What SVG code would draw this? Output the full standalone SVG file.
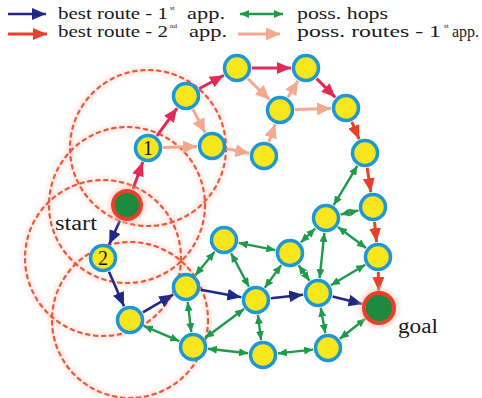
<svg xmlns="http://www.w3.org/2000/svg" width="482" height="398" viewBox="0 0 482 398">
  <defs>
    <style>
      .txt { font-family: "Liberation Serif", "Times New Roman", serif; fill: #1a1a1a; }
      .range { fill: none; stroke: #e85a3c; stroke-width: 2.2; stroke-dasharray: 3.5 4.5; stroke-linecap: round; }
      .haze { fill: none; stroke: #f7c4b8; stroke-width: 6; opacity: 0.4; }
      .node circle.body { fill: #f8e61c; stroke: #1c98d6; stroke-width: 3.5; }
      .end circle.halo { fill: #f9c3b6; opacity: 0.6; }
      .end circle.body { fill: #1b8a3e; stroke: #e8402a; stroke-width: 4; }
      .num { font-family: "Liberation Serif", "Times New Roman", serif; font-size: 20px; fill: #111; text-anchor: middle; }
      .red1 { stroke: #e12a55; stroke-width: 3; fill: none; marker-end: url(#hRed1); }
      .red2 { stroke: #e8402b; stroke-width: 3; fill: none; marker-end: url(#hRed2); }
      .blue { stroke: #1f2a87; stroke-width: 2.6; fill: none; marker-end: url(#hBlue); }
      .salmon { stroke: #f4a890; stroke-width: 3; fill: none; marker-end: url(#hSalmon); }
      .hop { stroke: #1d9a4b; stroke-width: 2.4; fill: none; marker-start: url(#hGreen); marker-end: url(#hGreen); }
    </style>
    <marker id="hRed1" markerUnits="userSpaceOnUse" viewBox="0 0 14 12" refX="14" refY="6" markerWidth="14" markerHeight="12" orient="auto-start-reverse">
      <path d="M0,0 L14,6 L0,12 Z" fill="#e12a55"/>
    </marker>
    <marker id="hRed2" markerUnits="userSpaceOnUse" viewBox="0 0 14 12" refX="14" refY="6" markerWidth="14" markerHeight="12" orient="auto-start-reverse">
      <path d="M0,0 L14,6 L0,12 Z" fill="#e8402b"/>
    </marker>
    <marker id="hBlue" markerUnits="userSpaceOnUse" viewBox="0 0 14 12" refX="14" refY="6" markerWidth="14" markerHeight="12" orient="auto-start-reverse">
      <path d="M0,0 L14,6 L0,12 Z" fill="#1f2a87"/>
    </marker>
    <marker id="hSalmon" markerUnits="userSpaceOnUse" viewBox="0 0 14 13" refX="14" refY="6.5" markerWidth="14" markerHeight="13" orient="auto-start-reverse">
      <path d="M0,0 L14,6.5 L0,13 Z" fill="#f4a890"/>
    </marker>
    <marker id="hGreen" markerUnits="userSpaceOnUse" viewBox="0 0 9 8" refX="9" refY="4" markerWidth="9" markerHeight="8" orient="auto-start-reverse">
      <path d="M0,0 L9,4 L0,8 Z" fill="#1d9a4b"/>
    </marker>
    <filter id="soft" x="-20%" y="-20%" width="140%" height="140%">
      <feGaussianBlur stdDeviation="2"/>
    </filter>
  </defs>

  <rect width="482" height="398" fill="#ffffff"/>

  <!-- legend -->
  <g id="legend">
    <line x1="8" y1="14" x2="46" y2="14" class="blue"/>
    <line x1="8" y1="34" x2="47" y2="34" class="red2"/>
    <line x1="240" y1="14" x2="283" y2="14" class="hop"/>
    <line x1="238" y1="34" x2="280" y2="34" class="salmon"/>

    <text class="txt" x="58" y="19" font-size="17" textLength="110" lengthAdjust="spacingAndGlyphs">best route - 1</text>
    <text class="txt" x="170" y="10" font-size="7">st</text>
    <text class="txt" x="187" y="19" font-size="17" textLength="38" lengthAdjust="spacingAndGlyphs">app.</text>

    <text class="txt" x="58" y="37" font-size="17" textLength="110" lengthAdjust="spacingAndGlyphs">best route - 2</text>
    <text class="txt" x="170" y="28" font-size="7">nd</text>
    <text class="txt" x="189" y="37" font-size="17" textLength="38" lengthAdjust="spacingAndGlyphs">app.</text>

    <text class="txt" x="297" y="19" font-size="17" textLength="91" lengthAdjust="spacingAndGlyphs">poss. hops</text>
    <text class="txt" x="297" y="37" font-size="17" textLength="144" lengthAdjust="spacingAndGlyphs">poss. routes - 1</text>
    <text class="txt" x="444" y="28" font-size="7">st</text>
    <text class="txt" x="452" y="37" font-size="17" textLength="27" lengthAdjust="spacingAndGlyphs">app.</text>
  </g>

  <!-- radio range of the nodes on the start side -->
  <g id="ranges">
    <g filter="url(#soft)">
      <circle class="haze" cx="148" cy="148" r="78"/>
      <circle class="haze" cx="127" cy="205" r="78"/>
      <circle class="haze" cx="103" cy="258" r="78"/>
      <circle class="haze" cx="130" cy="320" r="78"/>
    </g>
    <circle class="range" cx="148" cy="148" r="78"/>
    <circle class="range" cx="127" cy="205" r="78"/>
    <circle class="range" cx="103" cy="258" r="78"/>
    <circle class="range" cx="130" cy="320" r="78"/>
  </g>

  <g id="connectors">
    <!-- possible hops -->
    <line class="hop" x1="214.6" y1="251.7" x2="195.4" y2="275.3"/>
    <line class="hop" x1="231.1" y1="253.2" x2="248.9" y2="286.8"/>
    <line class="hop" x1="238.7" y1="242.9" x2="275.3" y2="250.1"/>
    <line class="hop" x1="187.7" y1="301.9" x2="191.3" y2="332.1"/>
    <line class="hop" x1="143.8" y1="325.9" x2="179.2" y2="341.1"/>
    <line class="hop" x1="244" y1="309" x2="205" y2="338"/>
    <line class="hop" x1="207.9" y1="348.7" x2="248.1" y2="353.3"/>
    <line class="hop" x1="257.9" y1="314.9" x2="261.1" y2="340.1"/>
    <line class="hop" x1="277.9" y1="353.4" x2="313.1" y2="349.6"/>
    <line class="hop" x1="339.8" y1="338.7" x2="365.6" y2="318.5"/>
    <line class="hop" x1="320.7" y1="307.8" x2="325.3" y2="333.2"/>
    <line class="hop" x1="264.8" y1="287.8" x2="281.2" y2="265.1"/>
    <line class="hop" x1="298.6" y1="265.3" x2="309.4" y2="280.7"/>
    <line class="hop" x1="300.8" y1="242.5" x2="315.2" y2="228.5"/>
    <line class="hop" x1="324.4" y1="232.9" x2="319.6" y2="278.1"/>
    <line class="hop" x1="338" y1="227" x2="366" y2="248"/>
    <line class="hop" x1="330.9" y1="285.3" x2="365.1" y2="264.7"/>
    <line class="hop" x1="340.6" y1="214.6" x2="358.4" y2="210.4"/>
    <line class="hop" x1="357.3" y1="165.9" x2="333.7" y2="205.1"/>

    <!-- possible routes, first approach -->
    <line class="salmon" x1="163" y1="147.5" x2="197" y2="146.5"/>
    <line class="salmon" x1="192.9" y1="109.3" x2="205.1" y2="132.7"/>
    <line class="salmon" x1="226.7" y1="148.8" x2="249.3" y2="153.2"/>
    <line class="salmon" x1="268.9" y1="141.8" x2="275.1" y2="124.2"/>
    <line class="salmon" x1="247.7" y1="78.5" x2="269.3" y2="99.5"/>
    <line class="salmon" x1="287.9" y1="97.2" x2="298.1" y2="80.8"/>
    <line class="salmon" x1="295" y1="109.5" x2="331" y2="108.5"/>

    <!-- best route, second approach -->
    <line class="red1" x1="132.9" y1="189" x2="142.8" y2="162.1"/>
    <line class="red1" x1="156.9" y1="135.9" x2="177.2" y2="108.1"/>
    <line class="red1" x1="199.1" y1="88.8" x2="223.9" y2="75.2"/>
    <line class="red1" x1="252" y1="68" x2="291" y2="68"/>
    <line class="red1" x1="316.6" y1="78.6" x2="335.4" y2="97.4"/>
    <line class="red2" x1="351.8" y1="121.8" x2="359.2" y2="139.2"/>
    <line class="red2" x1="367.2" y1="167.8" x2="370.8" y2="192.2"/>
    <line class="red2" x1="374.5" y1="221.9" x2="376.5" y2="242.1"/>
    <line class="red2" x1="378.3" y1="272" x2="378.7" y2="291"/>

    <!-- best route, first approach -->
    <line class="blue" x1="120" y1="220.5" x2="109.2" y2="244.3"/>
    <line class="blue" x1="109" y1="271.8" x2="124" y2="306.2"/>
    <line class="blue" x1="142.9" y1="312.4" x2="173.1" y2="294.6"/>
    <line class="blue" x1="200.7" y1="289.7" x2="241.3" y2="297.3"/>
    <line class="blue" x1="270.9" y1="298.3" x2="303.1" y2="294.7"/>
    <line class="blue" x1="332.6" y1="296.6" x2="362.5" y2="303.9"/>
  </g>

  <!-- nodes -->
  <g id="start" class="end">
    <circle class="halo" cx="127" cy="205" r="19" filter="url(#soft)"/>
    <circle class="body" cx="127" cy="205" r="14"/>
    <text class="txt" x="55" y="230" font-size="20" textLength="42" lengthAdjust="spacingAndGlyphs">start</text>
  </g>
  <g id="goal" class="end">
    <circle class="halo" cx="379" cy="308" r="20" filter="url(#soft)"/>
    <circle class="body" cx="379" cy="308" r="15"/>
    <text class="txt" x="398" y="333" font-size="20" textLength="40" lengthAdjust="spacingAndGlyphs">goal</text>
  </g>
  <g id="n1" class="node"><circle class="body" cx="148" cy="148" r="12.5"/><text class="num" x="148" y="155">1</text></g>
  <g id="n2" class="node"><circle class="body" cx="103" cy="258" r="12.5"/><text class="num" x="103" y="265">2</text></g>
  <g id="nA" class="node"><circle class="body" cx="186" cy="96" r="12.5"/></g>
  <g id="nB" class="node"><circle class="body" cx="237" cy="68" r="12.5"/></g>
  <g id="nC" class="node"><circle class="body" cx="306" cy="68" r="12.5"/></g>
  <g id="nD" class="node"><circle class="body" cx="280" cy="110" r="12.5"/></g>
  <g id="nE" class="node"><circle class="body" cx="346" cy="108" r="12.5"/></g>
  <g id="nF" class="node"><circle class="body" cx="212" cy="146" r="12.5"/></g>
  <g id="nG" class="node"><circle class="body" cx="264" cy="156" r="12.5"/></g>
  <g id="nH" class="node"><circle class="body" cx="365" cy="153" r="12.5"/></g>
  <g id="nI" class="node"><circle class="body" cx="373" cy="207" r="12.5"/></g>
  <g id="nJ" class="node"><circle class="body" cx="326" cy="218" r="12.5"/></g>
  <g id="nK" class="node"><circle class="body" cx="378" cy="257" r="12.5"/></g>
  <g id="nL" class="node"><circle class="body" cx="290" cy="253" r="12.5"/></g>
  <g id="nM" class="node"><circle class="body" cx="318" cy="293" r="12.5"/></g>
  <g id="nN" class="node"><circle class="body" cx="256" cy="300" r="12.5"/></g>
  <g id="nO" class="node"><circle class="body" cx="263" cy="355" r="12.5"/></g>
  <g id="nP" class="node"><circle class="body" cx="328" cy="348" r="12.5"/></g>
  <g id="nQ" class="node"><circle class="body" cx="224" cy="240" r="12.5"/></g>
  <g id="nR" class="node"><circle class="body" cx="186" cy="287" r="12.5"/></g>
  <g id="nS" class="node"><circle class="body" cx="130" cy="320" r="12.5"/></g>
  <g id="nT" class="node"><circle class="body" cx="193" cy="347" r="12.5"/></g>
</svg>
